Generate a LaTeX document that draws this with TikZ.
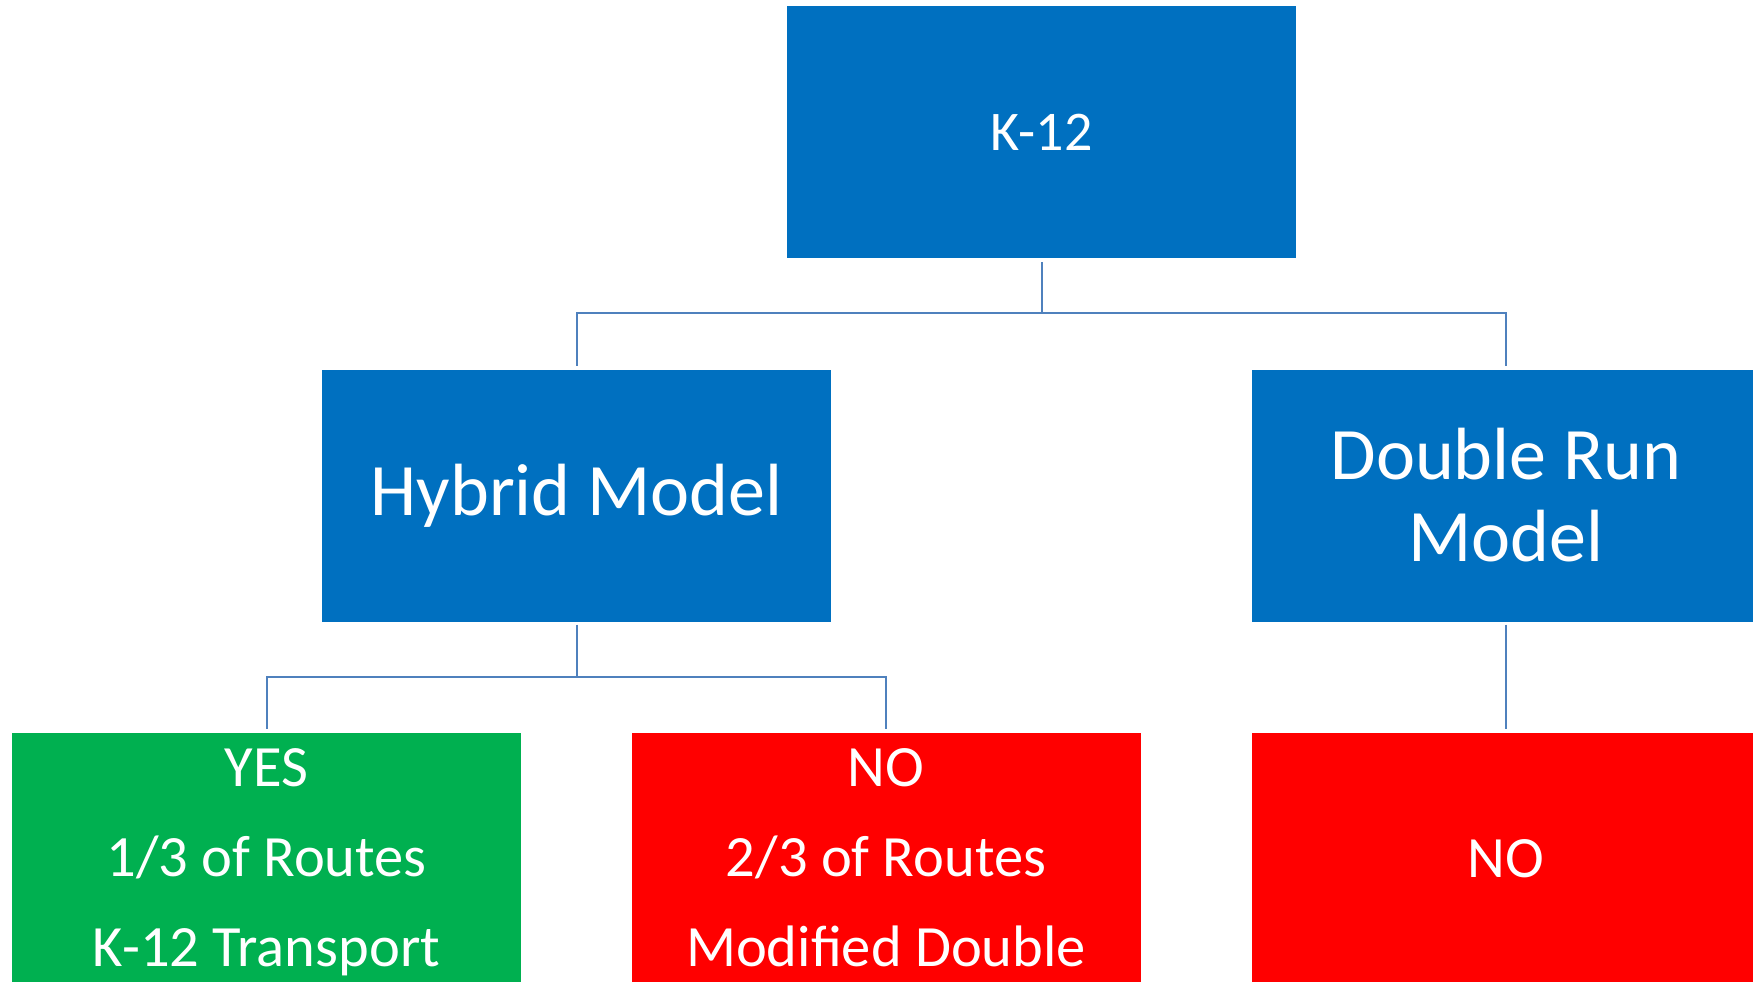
\documentclass[tikz,border=0pt]{standalone}
\usepackage{fontspec}
\setmainfont{Carlito}
\definecolor{boxblue}{HTML}{0070C0}
\definecolor{boxgreen}{HTML}{00B050}
\definecolor{boxred}{HTML}{FF0000}
\definecolor{linkblue}{HTML}{4F81BD}
\tikzset{
  box/.style={rectangle, inner sep=0pt, minimum width=509pt, minimum height=252pt, text=white, align=center},
  topbox/.style={box, fill=boxblue, font=\fontsize{56}{67}\selectfont},
  midbox/.style={box, fill=boxblue, font=\fontsize{74}{82}\selectfont},
  lowbox/.style={box, font=\fontsize{58.5}{90}\selectfont},
  conn/.style={draw=linkblue, line width=2pt}
}
\begin{document}
\begin{tikzpicture}[x=1pt,y=-1pt]
\useasboundingbox (0,0) rectangle (1753,982);
\clip (0,0) rectangle (1753,982);
\node[topbox] (k12) at (1041.5,132) {K-12};
\node[midbox] (hyb) at (576.5,495.5) {Hybrid Model};
\node[midbox] (dbl) at (1506,495.5) {Double Run\\Model};
\node[lowbox, fill=boxgreen] (yes) at (266.5,859) {\rule{0pt}{44pt}YES\\1/3 of Routes\\K-12 Transport};
\node[lowbox, fill=boxred] (no) at (886,859) {\rule{0pt}{44pt}NO\\2/3 of Routes\\Modified Double\vphantom{p}};
\node[lowbox, fill=boxred] (no2) at (1506,859) {NO};
\draw[conn] ([yshift=-4pt]k12.south) -- ++(0,51) coordinate (kj) -| ([yshift=3pt]hyb.north);
\draw[conn] (kj) -| ([yshift=3pt]dbl.north);
\draw[conn] ([yshift=-3pt]hyb.south) -- ++(0,52) coordinate (hj) -| ([yshift=4pt]yes.north);
\draw[conn] (hj) -| ([yshift=4pt]no.north);
\draw[conn] ([yshift=-3pt]dbl.south) -- ([yshift=4pt]no2.north);
\end{tikzpicture}
\end{document}
